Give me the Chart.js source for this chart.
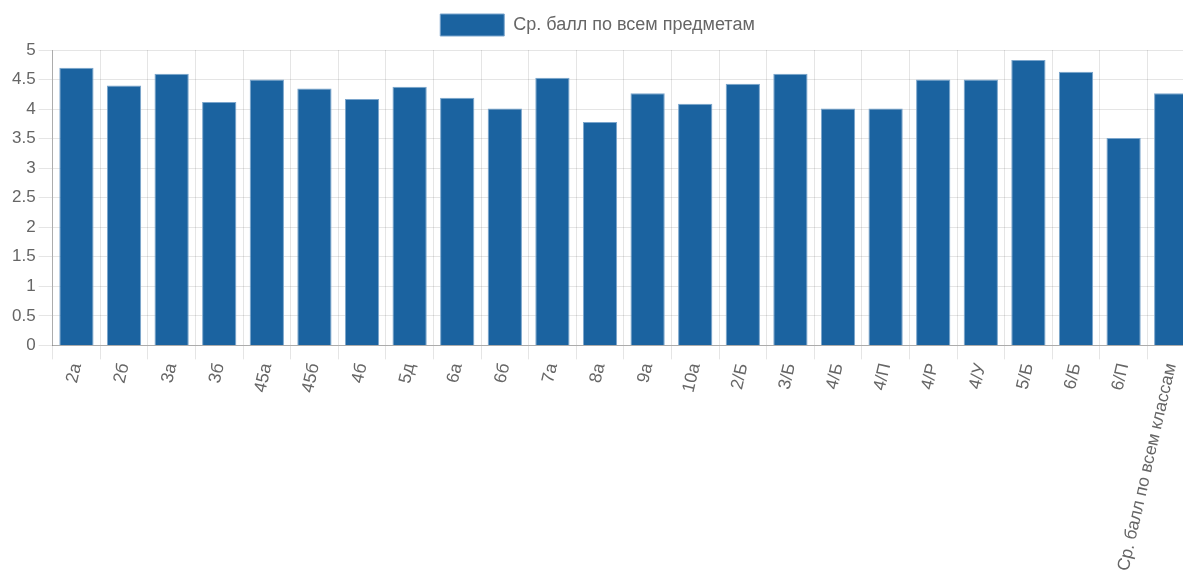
<!DOCTYPE html>
<html>
<head>
<meta charset="utf-8">
<script src="https://cdn.jsdelivr.net/npm/chart.js@4/dist/chart.umd.min.js"></script>
<style>
    html, body { margin: 0; padding: 0; background: #fff; overflow: hidden; }
    #wrap { position: relative; width: 1195px; height: 575px; }
</style>
</head>
<body>
<div id="wrap"><canvas id="myChart"></canvas></div>
<script>
// Классы
const classLabels = ['2а', '2б', '3а', '3б', '45а', '45б', '4б', '5д', '6а', '6б', '7а', '8а',
    '9а', '10а', '2/Б', '3/Б', '4/Б', '4/П', '4/Р', '4/У', '5/Б', '6/Б', '6/П', 'Ср. балл по всем классам'];

// Средний балл по всем предметам
const avgScores = [4.7, 4.4, 4.6, 4.12, 4.5, 4.35, 4.17, 4.38, 4.19, 4.01, 4.53, 3.78,
    4.27, 4.09, 4.43, 4.6, 4.01, 4.01, 4.5, 4.5, 4.83, 4.63, 3.51, 4.27];

const seriesName = 'Ср. балл по всем предметам';

// Деления оси Y
const yTicks = [0, 0.5, 1, 1.5, 2, 2.5, 3, 3.5, 4, 4.5, 5];

let myChart;

// чуть больше места под легендой
const legendGap = {
    id: 'legendGap',
    beforeInit(chart) {
        const fit = chart.legend.fit;
        chart.legend.fit = function () {
            fit.call(this);
            this.height += 4;
        };
    }
};

function initChart() {
    const ctx = document.getElementById('myChart').getContext('2d');
    Chart.defaults.font.family = '"Liberation Sans", Arial, sans-serif';
    Chart.defaults.font.size = 17;
    Chart.defaults.color = '#666';

    myChart = new Chart(ctx, {
        type: 'bar',
        data: {
            labels: classLabels,
            datasets: [{
                label: seriesName,
                data: avgScores,
                backgroundColor: '#1b63a0',
                borderColor: '#7aa5cc',
                borderWidth: 1,
                barPercentage: 0.9,
                categoryPercentage: 0.8
            }]
        },
        options: {
            responsive: true,
            maintainAspectRatio: false,
            animation: false,
            layout: { padding: { top: 2, left: 0, right: 0, bottom: 0 } },
            plugins: {
                legend: {
                    labels: {
                        boxWidth: 64,
                        boxHeight: 22,
                        padding: 12,
                        font: { size: 18 }
                    }
                },
                tooltip: { enabled: false }
            },
            scales: {
                x: {
                    grid: { color: 'rgba(0,0,0,0.1)', tickLength: 14, offset: true },
                    border: { color: 'rgba(0,0,0,0.25)' },
                    ticks: { minRotation: 77, maxRotation: 77, autoSkip: false, padding: 2, font: { size: 17.5 } }
                },
                y: {
                    min: 0,
                    max: 5,
                    afterBuildTicks: axis => { axis.ticks = yTicks.map(v => ({ value: v })); },
                    afterFit: axis => { axis.width += 9; },
                    grid: { color: 'rgba(0,0,0,0.1)', tickLength: 14 },
                    border: { color: 'rgba(0,0,0,0.25)' },
                    ticks: { padding: 3, callback: value => String(value) }
                }
            }
        },
        plugins: [legendGap]
    });
}

document.addEventListener('DOMContentLoaded', () => {
    initChart();
});
</script>
</body>
</html>
